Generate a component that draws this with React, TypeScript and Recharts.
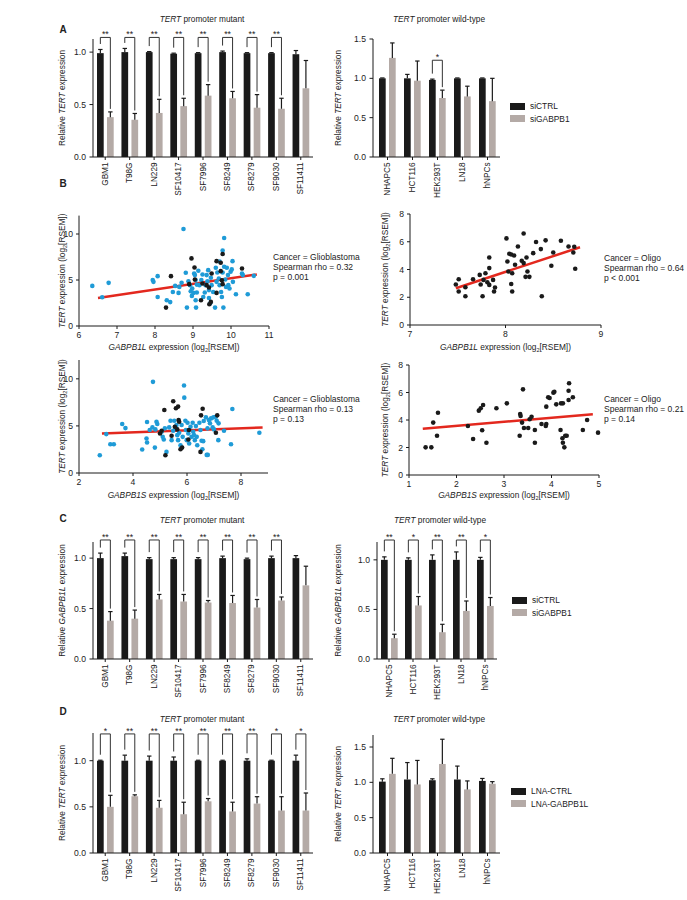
import React from 'react';
import { BarChart, Bar, XAxis, YAxis, Legend, ScatterChart, Scatter, ReferenceLine } from 'recharts';

const FONT = '"Liberation Sans", Arial, Helvetica, sans-serif';
const INK = '#222';
const DARK = '#1a1a1a';
const GREY = '#b4aaa6';
const BLUE = '#1f9bd7';
const RED = '#e3281e';

// ---- bar panels -------------------------------------------------------
const catMut = ['GBM1', 'T98G', 'LN229', 'SF10417', 'SF7996', 'SF8249', 'SF8279', 'SF9030', 'SF11411'];
const catWt = ['NHAPC5', 'HCT116', 'HEK293T', 'LN18', 'hNPCs'];

// A: TERT expression after siGABPB1
const aMutCtrl = [0.99, 1.0, 1.0, 0.985, 0.99, 1.0, 0.99, 0.99, 0.98];
const aMutCtrlErr = [0.035, 0.035, 0.005, 0.005, 0.005, 0.01, 0.005, 0.005, 0.035];
const aMutKd = [0.38, 0.355, 0.42, 0.485, 0.585, 0.56, 0.47, 0.46, 0.655];
const aMutKdErr = [0.05, 0.06, 0.13, 0.075, 0.105, 0.065, 0.125, 0.1, 0.265];
const aMutSig = ['**', '**', '**', '**', '**', '**', '**', '**', ''];
const aWtCtrl = [1.0, 1.0, 0.98, 1.0, 1.0];
const aWtCtrlErr = [0.005, 0.05, 0.01, 0.005, 0.005];
const aWtKd = [1.26, 0.97, 0.75, 0.77, 0.71];
const aWtKdErr = [0.19, 0.25, 0.1, 0.13, 0.29];
const aWtSig = ['', '', '*', '', ''];

// C: GABPB1L expression after siGABPB1
const cMutCtrl = [1.0, 1.02, 0.99, 0.99, 0.99, 1.0, 0.99, 1.0, 1.0];
const cMutCtrlErr = [0.05, 0.03, 0.015, 0.015, 0.015, 0.02, 0.01, 0.02, 0.025];
const cMutKd = [0.38, 0.4, 0.59, 0.57, 0.56, 0.555, 0.51, 0.58, 0.73];
const cMutKdErr = [0.09, 0.085, 0.05, 0.07, 0.02, 0.075, 0.08, 0.035, 0.19];
const cMutSig = ['**', '**', '**', '**', '**', '**', '**', '**', ''];
const cWtCtrl = [1.0, 1.0, 1.0, 1.0, 1.0];
const cWtCtrlErr = [0.03, 0.02, 0.05, 0.08, 0.025];
const cWtKd = [0.21, 0.54, 0.27, 0.485, 0.535];
const cWtKdErr = [0.04, 0.09, 0.08, 0.1, 0.085];
const cWtSig = ['**', '*', '**', '**', '*'];

// D: TERT expression after LNA-GABPB1L
const dMutCtrl = [1.0, 1.0, 1.0, 1.0, 1.0, 1.0, 1.0, 1.0, 1.0];
const dMutCtrlErr = [0.005, 0.06, 0.05, 0.04, 0.005, 0.005, 0.02, 0.005, 0.06];
const dMutKd = [0.5, 0.615, 0.49, 0.42, 0.56, 0.45, 0.535, 0.46, 0.46];
const dMutKdErr = [0.125, 0.015, 0.08, 0.13, 0.03, 0.1, 0.075, 0.15, 0.19];
const dMutSig = ['*', '**', '**', '**', '**', '**', '**', '*', '*'];
const dWtCtrl = [1.01, 1.04, 1.03, 1.04, 1.02];
const dWtCtrlErr = [0.04, 0.24, 0.02, 0.19, 0.035];
const dWtKd = [1.12, 0.97, 1.26, 0.9, 0.98];
const dWtKdErr = [0.22, 0.34, 0.35, 0.12, 0.03];
const dWtSig = ['', '', '', '', ''];

// ---- scatter panels (B) ----------------------------------------------
const gbmLBlue = [
  [6.35, 4.36], [6.61, 3.13], [6.78, 4.69], [7.94, 5.0], [7.96, 4.8], [8.07, 5.42], [8.07, 3.16], [8.31, 2.8],
  [8.4, 2.6], [8.47, 3.7], [8.53, 4.36], [8.62, 3.6], [8.64, 4.25], [8.7, 4.7], [8.75, 10.55], [8.81, 5.78],
  [8.84, 2.0], [8.88, 4.87], [8.92, 4.44], [8.94, 3.78], [8.97, 3.27], [8.98, 4.07], [9.01, 3.6], [9.03, 5.7],
  [9.05, 5.53], [9.07, 5.0], [9.07, 2.8], [9.08, 2.0], [9.1, 4.5], [9.1, 3.64], [9.14, 6.0], [9.17, 4.44],
  [9.22, 5.0], [9.25, 5.6], [9.27, 3.16], [9.31, 3.64], [9.33, 4.44], [9.36, 5.53], [9.38, 4.87], [9.4, 6.07],
  [9.42, 3.9], [9.42, 3.05], [9.45, 2.44], [9.47, 5.24], [9.49, 4.44], [9.53, 3.7], [9.58, 2.0], [9.6, 6.33],
  [9.62, 4.8], [9.64, 5.82], [9.68, 5.16], [9.7, 7.0], [9.7, 4.44], [9.74, 3.7], [9.76, 3.16], [9.78, 8.2],
  [9.78, 5.82], [9.8, 2.0], [9.82, 9.56], [9.82, 6.44], [9.85, 5.05], [9.87, 4.25], [9.89, 6.33], [9.92, 5.53],
  [9.93, 4.44], [9.96, 4.07], [9.99, 5.9], [10.02, 6.15], [10.04, 7.05], [10.05, 4.8], [10.13, 3.45],
  [10.29, 5.7], [10.31, 5.53], [10.44, 3.45], [10.6, 5.45],
];
const gbmLBlack = [
  [8.29, 2.0], [8.42, 5.42], [8.9, 4.55], [8.96, 7.35], [9.04, 6.36], [9.05, 5.05], [9.21, 2.8], [9.25, 4.62],
  [9.36, 4.44], [9.42, 4.18], [9.43, 2.36], [9.47, 2.62], [9.49, 5.7], [9.62, 7.05], [9.62, 3.6], [9.73, 6.87],
  [9.73, 5.96], [9.76, 4.98], [9.78, 4.55], [9.78, 7.82], [10.29, 6.25],
];
const gbmLFit = [[6.5, 3.05], [10.68, 5.6]];

const oliL = [
  [7.48, 2.92], [7.51, 3.3], [7.51, 2.41], [7.58, 2.07], [7.58, 2.72], [7.66, 3.3], [7.73, 3.61], [7.74, 2.92],
  [7.76, 2.07], [7.77, 3.25], [7.79, 3.73], [7.81, 3.08], [7.83, 4.1], [7.83, 4.87], [7.83, 2.89], [7.87, 3.25],
  [7.88, 2.41], [7.89, 2.7], [8.01, 6.24], [8.02, 4.58], [8.03, 3.86], [8.04, 5.13], [8.06, 2.96], [8.06, 5.08],
  [8.07, 2.41], [8.07, 3.73], [8.09, 5.01], [8.1, 4.34], [8.13, 5.66], [8.17, 4.63], [8.19, 4.46], [8.19, 6.6],
  [8.21, 3.47], [8.22, 4.87], [8.23, 3.86], [8.25, 3.47], [8.29, 5.18], [8.32, 5.98], [8.37, 5.47], [8.38, 2.07],
  [8.42, 6.1], [8.48, 4.27], [8.5, 5.23], [8.58, 6.07], [8.66, 5.66], [8.71, 5.23], [8.72, 5.64], [8.73, 4.05],
];
const oliLFit = [[7.48, 2.65], [8.78, 5.6]];

const gbmSBlue = [
  [2.77, 1.89], [3.01, 4.13], [3.16, 3.06], [3.29, 3.06], [3.6, 5.2], [3.72, 4.77], [4.34, 2.49], [4.52, 5.41],
  [4.5, 3.67], [4.52, 3.24], [4.62, 4.56], [4.72, 4.84], [4.74, 9.68], [4.81, 2.7], [4.83, 4.63], [4.87, 5.44],
  [4.9, 5.2], [5.06, 4.38], [5.1, 3.84], [5.14, 3.56], [5.18, 4.74], [5.24, 2.24], [5.34, 4.84], [5.39, 5.55],
  [5.43, 3.49], [5.49, 4.48], [5.53, 5.55], [5.58, 4.84], [5.61, 5.09], [5.64, 4.02], [5.67, 3.49], [5.71, 4.27],
  [5.76, 2.95], [5.8, 5.09], [5.84, 3.84], [5.89, 9.29], [5.9, 8.0], [5.94, 5.55], [5.96, 4.56], [5.99, 3.49],
  [6.02, 5.34], [6.05, 4.2], [6.08, 3.13], [6.13, 4.91], [6.17, 3.84], [6.21, 5.34], [6.23, 4.38], [6.26, 4.02],
  [6.29, 3.49], [6.33, 4.98], [6.36, 3.84], [6.38, 2.95], [6.46, 5.34], [6.5, 4.56], [6.54, 3.42], [6.57, 2.53],
  [6.6, 3.38], [6.62, 5.52], [6.7, 5.91], [6.73, 1.92], [6.76, 4.74], [6.77, 1.92], [6.81, 5.62], [6.85, 5.27],
  [6.89, 5.8], [6.95, 4.84], [6.98, 5.91], [7.0, 4.63], [7.07, 5.98], [7.1, 5.55], [7.16, 3.49], [7.17, 5.27],
  [7.37, 4.48], [7.63, 3.06], [7.68, 6.8], [8.68, 4.27],
];
const gbmSBlack = [
  [5.0, 4.2], [5.06, 4.48], [5.16, 6.69], [5.2, 1.89], [5.43, 3.95], [5.49, 7.62], [5.55, 4.91], [5.59, 6.87],
  [5.64, 4.63], [5.67, 7.05], [5.69, 5.62], [5.71, 5.44], [5.76, 2.53], [5.82, 2.7], [6.05, 3.56], [6.07, 4.56],
  [6.5, 2.24], [6.52, 6.12], [6.58, 6.83], [7.07, 4.27], [7.12, 6.12],
];
const gbmSFit = [[2.85, 4.2], [8.8, 4.84]];

const oliS = [
  [1.35, 2.01], [1.47, 2.01], [1.51, 3.81], [1.59, 2.86], [1.61, 4.53], [2.24, 3.56], [2.35, 2.62], [2.47, 4.68],
  [2.51, 4.85], [2.54, 3.25], [2.56, 5.09], [2.63, 2.35], [2.84, 4.85], [3.06, 5.21], [3.33, 2.86], [3.34, 4.44],
  [3.35, 4.29], [3.38, 3.81], [3.4, 6.23], [3.42, 3.42], [3.51, 3.42], [3.54, 4.05], [3.58, 4.24], [3.65, 3.27],
  [3.65, 2.35], [3.79, 3.71], [3.88, 3.56], [3.89, 3.71], [3.89, 4.97], [3.93, 5.65], [3.96, 5.6], [4.04, 5.99],
  [4.06, 6.06], [4.1, 5.14], [4.19, 3.27], [4.2, 5.21], [4.24, 5.21], [4.23, 2.67], [4.24, 2.35], [4.27, 2.01],
  [4.29, 2.86], [4.32, 2.86], [4.36, 5.45], [4.37, 6.67], [4.36, 6.13], [4.45, 5.65], [4.66, 3.27], [4.75, 4.0],
  [4.98, 3.08],
];
const oliSFit = [[1.29, 3.37], [4.87, 4.42]];

// ---- helpers ---------------------------------------------------------
const BAR = 6.7;
const GAP = 3.3;
const TICK_FS = 8.6;

const toRows = (cats, ctrl, ctrlErr, kd, kdErr, sig) =>
  cats.map((name, i) => ({ name, ctrl: ctrl[i], ctrlErr: ctrlErr[i], kd: kd[i], kdErr: kdErr[i], sig: sig[i] }));
const toPts = (arr) => arr.map(([x, y]) => ({ x, y }));

const Sub2 = () => <tspan baselineShift="sub" fontSize={5.5}>2</tspan>;

const yLabel = (content, dx) => (props) => {
  const vb = props.viewBox || { x: 0, y: 0, height: 0 };
  const x = vb.x + dx;
  const y = vb.y + vb.height / 2;
  return (
    <text x={x} y={y} transform={`rotate(-90 ${x} ${y})`} textAnchor="middle" dominantBaseline="central" fontSize={8.3} fill={INK}>
      {content}
    </text>
  );
};

const xLabel = (content, dy) => (props) => {
  const vb = props.viewBox || { x: 0, y: 0, width: 0 };
  return (
    <text x={vb.x + vb.width / 2} y={vb.y + dy} textAnchor="middle" dominantBaseline="central" fontSize={8.3} fill={INK}>
      {content}
    </text>
  );
};

const catTick = (p) => (
  <text x={p.x} y={p.y} transform={`rotate(-90 ${p.x} ${p.y})`} textAnchor="end" dominantBaseline="central" fontSize={8.2} fill={INK}>
    {p.payload.value}
  </text>
);

const errBar = (cx, top, et) =>
  et < top - 0.3 ? (
    <g stroke={DARK} strokeWidth={1.2}>
      <line x1={cx} y1={top} x2={cx} y2={et} />
      <line x1={cx - 2.2} y1={et} x2={cx + 2.2} y2={et} />
    </g>
  ) : null;

const ctrlShape = (bracket) => (p) => {
  const { x, y, width, height, payload } = p;
  const ppu = height / payload.ctrl;
  const base = y + height;
  const cx = x + width / 2;
  const et = base - (payload.ctrl + payload.ctrlErr) * ppu;
  let br = null;
  if (payload.sig) {
    const cx2 = x + width + GAP + width / 2;
    const yb = base - bracket * ppu;
    const l1 = Math.max(yb + 3, et - 5.5);
    const r1 = base - (payload.kd + payload.kdErr) * ppu - 3;
    br = (
      <g>
        <path d={`M${cx},${l1}V${yb}H${cx2}V${r1}`} fill="none" stroke="#333" strokeWidth={1} />
        <text x={(cx + cx2) / 2} y={yb - 0.3} textAnchor="middle" fontSize={8.8} fill={INK}>{payload.sig}</text>
      </g>
    );
  }
  return (
    <g>
      <rect x={x} y={y} width={width} height={height} fill={DARK} />
      {errBar(cx, y, et)}
      {br}
    </g>
  );
};

const kdShape = (p) => {
  const { x, y, width, height, payload } = p;
  const ppu = height / payload.kd;
  const base = y + height;
  const cx = x + width / 2;
  const et = base - (payload.kd + payload.kdErr) * ppu;
  return (
    <g>
      <rect x={x} y={y} width={width} height={height} fill={GREY} />
      {errBar(cx, y, et)}
    </g>
  );
};

const LegendBox = (props) => (
  <div style={{ fontFamily: FONT }}>
    {(props.payload || []).map((e) => (
      <div key={e.value} style={{ display: 'flex', alignItems: 'center', height: 12.5 }}>
        <span style={{ width: 15, height: 7, background: e.color, display: 'inline-block' }} />
        <span style={{ marginLeft: 5, fontSize: 8.4, color: INK }}>{e.value}</span>
      </div>
    ))}
  </div>
);

function BarPanel({ data, L, T, W, H, x0, x1, yTop, y0, max, ticks, padL = 0, bracket, yLab, labX, names, legend }) {
  const margin = { top: yTop - T, right: L + W - x1, bottom: 0, left: 0 };
  return (
    <div style={{ position: 'absolute', left: L, top: T }}>
      <BarChart width={W} height={H} data={data} margin={margin} barSize={BAR} barGap={GAP}>
        <XAxis
          dataKey="name"
          interval={0}
          height={T + H - y0}
          tickSize={3}
          tickMargin={2.5}
          tick={catTick}
          padding={{ left: padL, right: 0 }}
          axisLine={{ stroke: DARK }}
          tickLine={{ stroke: DARK }}
        />
        <YAxis
          width={x0 - L}
          domain={[0, max]}
          ticks={ticks}
          tickFormatter={(v) => v.toFixed(1)}
          tickSize={3.5}
          tickMargin={3.5}
          tick={{ fontSize: TICK_FS, fill: INK }}
          axisLine={{ stroke: DARK }}
          tickLine={{ stroke: DARK }}
          label={yLabel(yLab, labX - L)}
        />
        <Bar dataKey="ctrl" name={names[0]} fill={DARK} shape={ctrlShape(bracket)} isAnimationActive={false} />
        <Bar dataKey="kd" name={names[1]} fill={GREY} shape={kdShape} isAnimationActive={false} />
        {legend && (
          <Legend
            content={LegendBox}
            layout="horizontal"
            verticalAlign="middle"
            align="center"
            wrapperStyle={{ left: legend[0] - L, top: legend[1] - T, width: 'auto' }}
          />
        )}
      </BarChart>
    </div>
  );
}

const dot = (color) => (p) => <circle cx={p.cx} cy={p.cy} r={2.3} fill={color} />;

function ScatterPanel({ L, T, W, H, x0, x1, yTop, y0, xDom, xTicks, yDom, yTicks, blue, black, fit, xLab, labX, labY }) {
  const margin = { top: yTop - T, right: L + W - x1, bottom: 0, left: 0 };
  return (
    <div style={{ position: 'absolute', left: L, top: T }}>
      <ScatterChart width={W} height={H} margin={margin}>
        <XAxis
          type="number"
          dataKey="x"
          domain={xDom}
          ticks={xTicks}
          height={T + H - y0}
          tickSize={3}
          tickMargin={2.5}
          tick={{ fontSize: TICK_FS, fill: INK }}
          axisLine={{ stroke: DARK }}
          tickLine={{ stroke: DARK }}
          label={xLabel(xLab, labY - y0)}
        />
        <YAxis
          type="number"
          dataKey="y"
          domain={yDom}
          ticks={yTicks}
          width={x0 - L}
          tickSize={3}
          tickMargin={3}
          tick={{ fontSize: TICK_FS, fill: INK }}
          axisLine={{ stroke: DARK }}
          tickLine={{ stroke: DARK }}
          label={yLabel(<><tspan fontStyle="italic">TERT</tspan> expression (log<Sub2 />[RSEM])</>, labX - L)}
        />
        {blue && <Scatter data={toPts(blue)} shape={dot(BLUE)} isAnimationActive={false} />}
        <Scatter data={toPts(black)} shape={dot(DARK)} isAnimationActive={false} />
        <ReferenceLine segment={toPts(fit)} stroke={RED} strokeWidth={2.5} />
      </ScatterChart>
    </div>
  );
}

const Txt = ({ x, y, children, size = 8.3, bold = false, left = false }) => (
  <div
    style={{
      position: 'absolute',
      left: x,
      top: y,
      transform: left ? 'translate(0,-50%)' : 'translate(-50%,-50%)',
      fontSize: size,
      fontWeight: bold ? 700 : 400,
      whiteSpace: 'nowrap',
      lineHeight: 1,
      color: INK,
    }}
  >
    {children}
  </div>
);

const Stats = ({ x, y, lines }) => (
  <>
    {lines.map((t, i) => (
      <Txt key={t} x={x} y={y + i * 10.2} size={8.5} left>{t}</Txt>
    ))}
  </>
);

const mutTitle = <><i>TERT</i> promoter mutant</>;
const wtTitle = <><i>TERT</i> promoter wild-type</>;
const relTert = <>Relative <tspan fontStyle="italic">TERT</tspan> expression</>;
const relGab = <>Relative <tspan fontStyle="italic">GABPB1L</tspan> expression</>;
const gabL = <><tspan fontStyle="italic">GABPB1L</tspan> expression (log<Sub2 />[RSEM])</>;
const gabS = <><tspan fontStyle="italic">GABPB1S</tspan> expression (log<Sub2 />[RSEM])</>;

export default function App() {
  return (
    <div style={{ position: 'absolute', left: 0, top: 0, width: 687, height: 900, background: '#fff', fontFamily: FONT, overflow: 'hidden' }}>
      {/* A */}
      <Txt x={63} y={30} size={10} bold>A</Txt>
      <Txt x={202} y={19}>{mutTitle}</Txt>
      <Txt x={439} y={19}>{wtTitle}</Txt>
      <BarPanel
        data={toRows(catMut, aMutCtrl, aMutCtrlErr, aMutKd, aMutKdErr, aMutSig)}
        L={50} T={22} W={270} H={183} x0={93} x1={313} yTop={39} y0={157}
        max={1.125} ticks={[0, 0.5, 1]} bracket={1.14} yLab={relTert} labX={62} names={['siCTRL', 'siGABPB1']}
      />
      <BarPanel
        data={toRows(catWt, aWtCtrl, aWtCtrlErr, aWtKd, aWtKdErr, aWtSig)}
        L={330} T={22} W={357} H={183} x0={373} x1={500} yTop={39} y0={157} padL={2}
        max={1.5} ticks={[0, 0.5, 1, 1.5]} bracket={1.23} yLab={relTert} labX={338} names={['siCTRL', 'siGABPB1']}
        legend={[510, 100]}
      />

      {/* B */}
      <Txt x={63} y={184} size={10} bold>B</Txt>
      <ScatterPanel
        L={55} T={205} W={230} H={150} x0={79} x1={269} yTop={215.6} y0={326}
        xDom={[6, 11]} xTicks={[6, 7, 8, 9, 10, 11]} yDom={[0, 12]} yTicks={[0, 5, 10]}
        blue={gbmLBlue} black={gbmLBlack} fit={gbmLFit} xLab={gabL} labX={62} labY={347}
      />
      <Stats x={273} y={257} lines={['Cancer = Glioblastoma', 'Spearman rho = 0.32', 'p = 0.001']} />
      <ScatterPanel
        L={375} T={205} W={235} H={150} x0={410} x1={601} yTop={214} y0={325}
        xDom={[7, 9]} xTicks={[7, 8, 9]} yDom={[0, 8]} yTicks={[0, 2, 4, 6, 8]}
        black={oliL} fit={oliLFit} xLab={gabL} labX={385} labY={347}
      />
      <Stats x={604} y={258} lines={['Cancer = Oligo', 'Spearman rho = 0.64', 'p < 0.001']} />
      <ScatterPanel
        L={55} T={350} W={230} H={155} x0={79} x1={268} yTop={360} y0={473}
        xDom={[2, 9]} xTicks={[2, 4, 6, 8]} yDom={[0, 12]} yTicks={[0, 5, 10]}
        blue={gbmSBlue} black={gbmSBlack} fit={gbmSFit} xLab={gabS} labX={62} labY={495}
      />
      <Stats x={273} y={399} lines={['Cancer = Glioblastoma', 'Spearman rho = 0.13', 'p = 0.13']} />
      <ScatterPanel
        L={375} T={350} W={235} H={155} x0={409} x1={599} yTop={365} y0={475}
        xDom={[1, 5]} xTicks={[1, 2, 3, 4, 5]} yDom={[0, 8]} yTicks={[0, 2, 4, 6, 8]}
        black={oliS} fit={oliSFit} xLab={gabS} labX={385} labY={495}
      />
      <Stats x={604} y={399} lines={['Cancer = Oligo', 'Spearman rho = 0.21', 'p = 0.14']} />

      {/* C */}
      <Txt x={63} y={519} size={10} bold>C</Txt>
      <Txt x={202} y={520}>{mutTitle}</Txt>
      <Txt x={440} y={520}>{wtTitle}</Txt>
      <BarPanel
        data={toRows(catMut, cMutCtrl, cMutCtrlErr, cMutKd, cMutKdErr, cMutSig)}
        L={50} T={525} W={270} H={180} x0={93} x1={313} yTop={542} y0={659}
        max={1.16} ticks={[0, 0.5, 1]} bracket={1.18} yLab={relGab} labX={62} names={['siCTRL', 'siGABPB1']}
      />
      <BarPanel
        data={toRows(catWt, cWtCtrl, cWtCtrlErr, cWtKd, cWtKdErr, cWtSig)}
        L={330} T={525} W={357} H={180} x0={377} x1={497} yTop={542} y0={659}
        max={1.18} ticks={[0, 0.5, 1]} bracket={1.2} yLab={relGab} labX={338} names={['siCTRL', 'siGABPB1']}
        legend={[512, 594]}
      />

      {/* D */}
      <Txt x={63} y={712} size={10} bold>D</Txt>
      <Txt x={202} y={719}>{mutTitle}</Txt>
      <Txt x={439} y={719}>{wtTitle}</Txt>
      <BarPanel
        data={toRows(catMut, dMutCtrl, dMutCtrlErr, dMutKd, dMutKdErr, dMutSig)}
        L={50} T={715} W={275} H={185} x0={93} x1={313} yTop={733} y0={853}
        max={1.3} ticks={[0, 0.5, 1]} bracket={1.29} yLab={relTert} labX={62} names={['LNA-CTRL', 'LNA-GABPB1L']}
      />
      <BarPanel
        data={toRows(catWt, dWtCtrl, dWtCtrlErr, dWtKd, dWtKdErr, dWtSig)}
        L={330} T={715} W={357} H={185} x0={373} x1={500} yTop={735} y0={853} padL={2}
        max={1.67} ticks={[0, 0.5, 1, 1.5]} bracket={1.7} yLab={relTert} labX={338} names={['LNA-CTRL', 'LNA-GABPB1L']}
        legend={[511, 785]}
      />
    </div>
  );
}
